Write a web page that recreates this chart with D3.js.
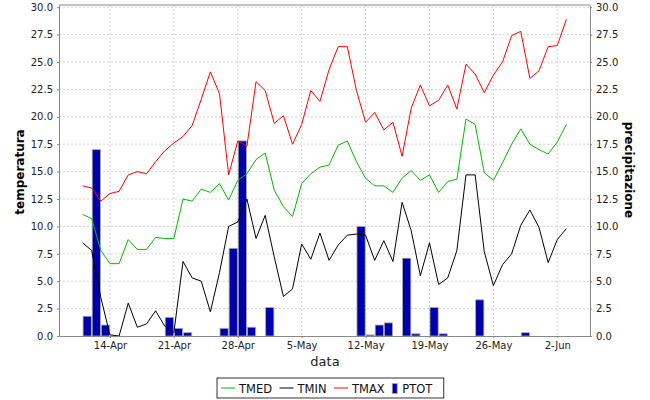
<!DOCTYPE html>
<html>
<head>
<meta charset="utf-8">
<script src="https://cdn.jsdelivr.net/npm/d3@7"></script>
<style>
  body { margin: 0; background: #fff; }
  text { font-family: "DejaVu Sans", sans-serif; }
</style>
</head>
<body>
<svg id="chart" width="650" height="400"></svg>
<script>
// daily values, first day 11-Apr
const firstDay = '2013-04-11'

const tmed = [11.1, 10.7, 7.8, 6.6, 6.6, 8.8, 7.9, 7.9, 9.0, 8.9,
  8.9, 12.5, 12.3, 13.4, 13.1, 13.9, 12.4, 14.2, 14.8, 16.1,
  16.7, 13.3, 11.8, 10.9, 13.9, 14.8, 15.4, 15.6, 17.4, 17.8,
  15.9, 14.4, 13.7, 13.7, 13.1, 14.4, 15.1, 14.2, 14.7, 13.1,
  14.1, 14.3, 19.8, 19.3, 14.9, 14.2, 15.8, 17.5, 18.9, 17.5,
  17.0, 16.6, 17.7, 19.3]

const tmin = [8.5, 7.8, 3.5, 0.1, 0.0, 3.0, 0.8, 1.1, 2.3, 0.9,
  0.3, 6.8, 5.3, 5.0, 2.2, 5.8, 10.0, 10.4, 12.5, 8.9,
  11.0, 7.2, 3.6, 4.3, 8.4, 7.0, 9.4, 6.9, 8.3, 9.2,
  9.3, 9.2, 6.9, 8.7, 6.8, 12.2, 9.6, 5.5, 8.5, 4.7,
  5.3, 7.8, 14.7, 14.7, 7.7, 4.6, 6.5, 7.5, 10.1, 11.5,
  9.9, 6.7, 8.8, 9.8]

const tmax = [13.7, 13.5, 12.3, 13.0, 13.2, 14.7, 15.0, 14.8, 15.9, 16.9,
  17.6, 18.2, 19.2, 21.6, 24.1, 22.1, 14.7, 17.8, 17.3, 23.2,
  22.4, 19.4, 20.1, 17.5, 19.3, 22.4, 21.4, 24.3, 26.4, 26.4,
  22.4, 19.5, 20.4, 18.8, 19.5, 16.4, 20.8, 22.9, 21.0, 21.5,
  22.9, 20.7, 24.8, 23.9, 22.2, 23.8, 25.0, 27.4, 27.8, 23.5,
  24.2, 26.4, 26.5, 28.9]

const ptot = [1.8, 17.0, 1.0, 0, 0, 0, 0, 0, 0, 1.7,
  0.7, 0.3, 0, 0, 0, 0.7, 8.0, 17.8, 0.8, 0,
  2.6, 0, 0, 0, 0, 0, 0, 0, 0, 0,
  10.0, 0.1, 1.0, 1.2, 0, 7.1, 0.2, 0, 2.6, 0.2,
  0, 0, 0, 3.3, 0, 0, 0, 0, 0.3, 0,
  0, 0, 0, 0]

const xTickDays = ['2013-04-14', '2013-04-21', '2013-04-28', '2013-05-05',
  '2013-05-12', '2013-05-19', '2013-05-26', '2013-06-02']
const yTicks = [0, 2.5, 5, 7.5, 10, 12.5, 15, 17.5, 20, 22.5, 25, 27.5, 30]

const lineSeries = [
  { name: 'TMED', values: tmed, color: '#00bb00' },
  { name: 'TMIN', values: tmin, color: '#000000' },
  { name: 'TMAX', values: tmax, color: '#ff0000' }
]

const parse = d3.utcParse('%Y-%m-%d')
const day0 = parse(firstDay)
const days = tmed.map((v, i) => d3.utcDay.offset(day0, i))

const plot = { left: 59, right: 590, top: 5, bottom: 336 }
const barColor = '#0000aa'
const axisColor = '#888888'
const gridColor = '#d4d4d4'

const x = d3.scaleUtc()
  .domain([d3.utcHour.offset(day0, -62), d3.utcHour.offset(day0, 1334)])
  .range([plot.left, plot.right])

const y = d3.scaleLinear()
  .domain([0, 30.2])
  .range([plot.bottom, plot.top])

// precipitation uses its own axis on the right, same span
const yRight = d3.scaleLinear()
  .domain([0, 30.2])
  .range([plot.bottom, plot.top])

const svg = d3.select('#chart')

svg.append('rect')
  .attr('width', 650).attr('height', 400)
  .attr('fill', '#ffffff')

const grid = svg.append('g')
grid.selectAll('line.gx')
  .data(xTickDays.map(parse))
  .enter().append('line')
  .attr('x1', d => x(d)).attr('x2', d => x(d))
  .attr('y1', plot.top).attr('y2', plot.bottom)
  .attr('stroke', gridColor)
  .attr('stroke-dasharray', '2,2')

grid.selectAll('line.gy')
  .data(yTicks.slice(1))
  .enter().append('line')
  .attr('x1', plot.left).attr('x2', plot.right)
  .attr('y1', d => y(d)).attr('y2', d => y(d))
  .attr('stroke', gridColor)
  .attr('stroke-dasharray', '2,2')

// bars span their whole day
const dayWidth = x(d3.utcDay.offset(day0, 1)) - x(day0)
svg.append('g')
  .selectAll('rect')
  .data(ptot.map((v, i) => ({ day: days[i], v })).filter(d => d.v > 0))
  .enter().append('rect')
  .attr('x', d => x(d.day) + 0.5)
  .attr('width', dayWidth * 0.9)
  .attr('y', d => yRight(d.v))
  .attr('height', d => plot.bottom - yRight(d.v))
  .attr('fill', barColor)
  .attr('stroke', '#aaaaaa')
  .attr('stroke-width', 0.8)

const line = d3.line()
  .x((d, i) => x(days[i]))
  .y(d => y(d))

svg.append('g')
  .selectAll('path')
  .data(lineSeries)
  .enter().append('path')
  .attr('d', d => line(d.values))
  .attr('fill', 'none')
  .attr('stroke', d => d.color)
  .attr('stroke-width', 1)

// plot outline
svg.append('line')
  .attr('x1', plot.left).attr('x2', plot.right)
  .attr('y1', plot.top).attr('y2', plot.top)
  .attr('stroke', axisColor)

function styleAxis(g) {
  g.attr('font-family', '"DejaVu Sans", sans-serif').attr('font-size', 10)
  g.select('.domain').attr('stroke', axisColor)
  g.selectAll('.tick line').attr('stroke', axisColor)
  g.selectAll('.tick text').attr('fill', '#222')
}

svg.append('g')
  .attr('transform', `translate(0,${plot.bottom})`)
  .call(d3.axisBottom(x)
    .tickValues(xTickDays.map(parse))
    .tickFormat(d3.utcFormat('%-d-%b'))
    .tickSize(2).tickSizeOuter(0).tickPadding(4))
  .call(styleAxis)

svg.append('g')
  .attr('transform', `translate(${plot.left},0)`)
  .call(d3.axisLeft(y)
    .tickValues(yTicks)
    .tickFormat(d3.format('.1f'))
    .tickSize(2).tickSizeOuter(0).tickPadding(4))
  .call(styleAxis)

svg.append('g')
  .attr('transform', `translate(${plot.right},0)`)
  .call(d3.axisRight(yRight)
    .tickValues(yTicks)
    .tickFormat(d3.format('.1f'))
    .tickSize(2).tickSizeOuter(0).tickPadding(4))
  .call(styleAxis)

// axis titles
svg.append('text')
  .attr('x', 325).attr('y', 366)
  .attr('text-anchor', 'middle')
  .attr('font-size', 13)
  .attr('fill', '#222')
  .text('data')

svg.append('text')
  .attr('transform', 'translate(24,172) rotate(-90)')
  .attr('text-anchor', 'middle')
  .attr('font-size', 12)
  .attr('font-weight', 'bold')
  .text('temperatura')

svg.append('text')
  .attr('transform', 'translate(625,170) rotate(90)')
  .attr('text-anchor', 'middle')
  .attr('font-size', 12)
  .attr('font-weight', 'bold')
  .text('precipitazione')

// legend
const legend = svg.append('g')
const legendBox = legend.append('rect')
  .attr('x', 217).attr('y', 378)
  .attr('width', 224).attr('height', 20)
  .attr('fill', '#fff')
  .attr('stroke', '#000')
  .attr('stroke-width', 0.8)

const legendItems = lineSeries.map(s => ({ name: s.name, color: s.color, kind: 'line' }))
  .concat([{ name: 'PTOT', color: barColor, kind: 'bar' }])

let lx = 221
legendItems.forEach(item => {
  if (item.kind === 'line') {
    legend.append('line')
      .attr('x1', lx).attr('x2', lx + 14)
      .attr('y1', 388).attr('y2', 388)
      .attr('stroke', item.color)
    lx += 18
  } else {
    legend.append('rect')
      .attr('x', lx).attr('y', 383.5)
      .attr('width', 5).attr('height', 10)
      .attr('fill', item.color)
      .attr('stroke', '#aaaaaa')
      .attr('stroke-width', 0.8)
    lx += 10
  }
  const t = legend.append('text')
    .attr('x', lx).attr('y', 392.5)
    .attr('font-size', 11.5)
    .attr('fill', '#111')
    .text(item.name)
  lx += t.node().getComputedTextLength() + 7.5
})
legendBox.attr('width', lx - 217 + 4)
</script>
</body>
</html>
